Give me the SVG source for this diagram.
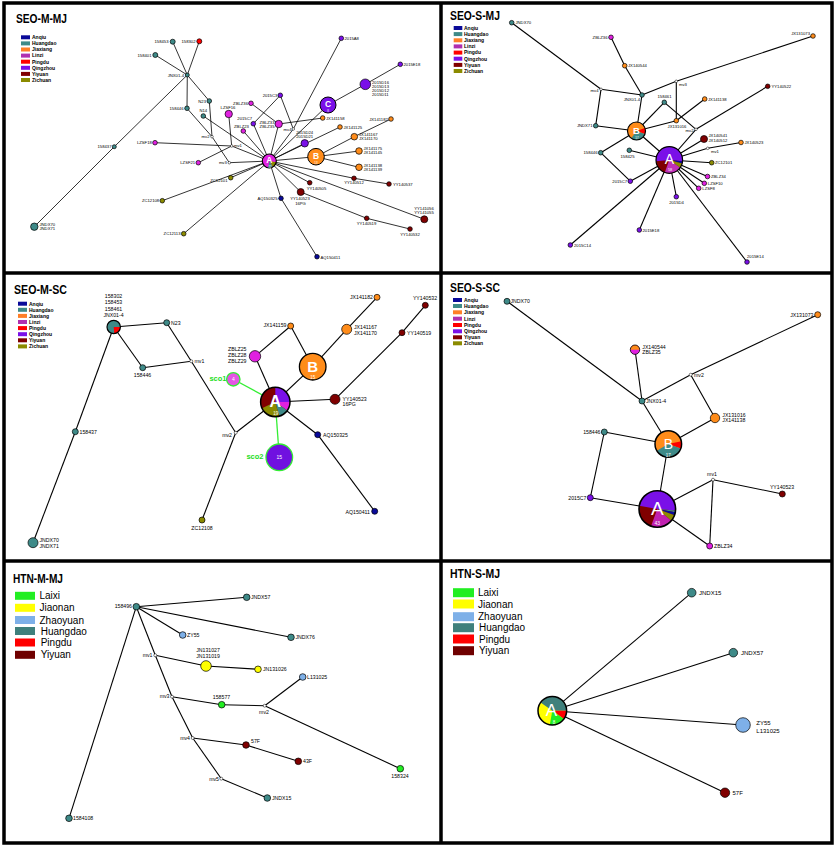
<svg xmlns="http://www.w3.org/2000/svg" width="836" height="846" viewBox="0 0 836 846">
<style>
.fr{fill:none;stroke:#000;stroke-width:3.5}
.e{stroke:#000;stroke-width:0.8;fill:none}
.e2{stroke:#000;stroke-width:1.1;fill:none}
.g{stroke:#33ee33;stroke-width:1.3;fill:none}
circle{stroke:#000;stroke-width:0.7}
.o{fill:none;stroke:#000;stroke-width:1.2}
.mv{fill:#fff;stroke-width:0.5}
text{font-family:"Liberation Sans",Arial,sans-serif;fill:#000}
.t{font-size:4.2px}
.t2{font-size:5.2px}
.t3{font-size:6px}
.ti{font-size:12.5px;font-weight:bold}
.lg{font-size:5px;font-weight:bold}
.lg2{font-size:10px}
.w{fill:#fff;text-anchor:middle}
.sc{fill:#22dd22;font-weight:bold;font-size:7.5px;text-anchor:end}
.r{text-anchor:end}
.m{text-anchor:middle}
.AQ{fill:#0a0a99}.HD{fill:#3e8a88}.JX{fill:#ff8c1a}.LZ{fill:#e020e0}.PD{fill:#ff0000}.QZ{fill:#7a10e8}.YY{fill:#800000}.ZC{fill:#8b8b00}
.LZL{fill:#b030b0}.JXL{fill:#ff7f27}
.LX{fill:#22ee22}.JN{fill:#ffff00}.ZH{fill:#7eb0e8}.HD2{fill:#3f807c}
</style>
<rect width="836" height="846" fill="#fff"/>
<g id="frame">
<rect class="fr" x="4" y="3" width="828" height="840"/>
<line class="fr" x1="441" y1="3" x2="441" y2="843"/>
<line class="fr" x1="4" y1="273" x2="832" y2="273"/>
<line class="fr" x1="4" y1="561" x2="832" y2="561"/>
</g>

<!-- ================= PANEL 1 SEO-M-MJ ================= -->
<g id="p1">
<text class="ti" x="16" y="23" textLength="51" lengthAdjust="spacingAndGlyphs">SEO-M-MJ</text>
<g id="p1-legend">
<rect class="AQ" x="21" y="35.3" width="9" height="4"/><text class="lg" x="32" y="39.1">Anqiu</text>
<rect class="HD" x="21" y="41.4" width="9" height="4"/><text class="lg" x="32" y="45.2">Huangdao</text>
<rect class="JXL" x="21" y="47.5" width="9" height="4"/><text class="lg" x="32" y="51.3">Jiaxiang</text>
<rect class="LZL" x="21" y="53.6" width="9" height="4"/><text class="lg" x="32" y="57.4">Linzi</text>
<rect class="PD" x="21" y="59.7" width="9" height="4"/><text class="lg" x="32" y="63.5">Pingdu</text>
<rect class="QZ" x="21" y="65.8" width="9" height="4"/><text class="lg" x="32" y="69.6">Qingzhou</text>
<rect class="YY" x="21" y="71.9" width="9" height="4"/><text class="lg" x="32" y="75.7">Yiyuan</text>
<rect class="ZC" x="21" y="78" width="9" height="4"/><text class="lg" x="32" y="81.8">Zichuan</text>
</g>
<g id="p1-connectors">
<line class="e" x1="172.7" y1="41.7" x2="187.3" y2="75"/>
<line class="e" x1="199.3" y1="41.3" x2="187.3" y2="75"/>
<line class="e" x1="155.3" y1="55" x2="187.3" y2="75"/>
<line class="e" x1="187.3" y1="75" x2="187" y2="108.3"/>
<line class="e" x1="187.3" y1="75" x2="209.3" y2="101"/>
<line class="e" x1="187.3" y1="75" x2="114.3" y2="146.7"/>
<line class="e" x1="114.3" y1="146.7" x2="34.3" y2="226.7"/>
<line class="e" x1="187" y1="108.3" x2="212" y2="136.7"/>
<line class="e" x1="209.3" y1="101" x2="212" y2="136.7"/>
<line class="e" x1="203.3" y1="116" x2="269.3" y2="161"/>
<line class="e" x1="155" y1="142.7" x2="231.7" y2="146"/>
<line class="e" x1="198.3" y1="162.7" x2="231.7" y2="146"/>
<line class="e" x1="212" y1="136.7" x2="229.3" y2="162.7"/>
<line class="e" x1="231.7" y1="146" x2="269.3" y2="161"/>
<line class="e" x1="229.3" y1="162.7" x2="269.3" y2="161"/>
<line class="e" x1="230.7" y1="177.7" x2="269.3" y2="161"/>
<line class="e" x1="162.3" y1="200.7" x2="269.3" y2="161"/>
<line class="e" x1="183.7" y1="233.7" x2="269.3" y2="161"/>
<line class="e" x1="228.7" y1="114" x2="231.7" y2="146"/>
<line class="e" x1="243.3" y1="131" x2="269.3" y2="161"/>
<line class="e" x1="253.3" y1="123.7" x2="269.3" y2="161"/>
<line class="e" x1="280.3" y1="95.3" x2="253.3" y2="123.7"/>
<line class="e" x1="280.3" y1="95.3" x2="293.3" y2="129"/>
<line class="e" x1="251" y1="103.3" x2="278.7" y2="124"/>
<line class="e" x1="278.7" y1="124" x2="269.3" y2="161"/>
<line class="e" x1="278.7" y1="124" x2="322.7" y2="118"/>
<line class="e" x1="293.3" y1="129" x2="269.3" y2="161"/>
<line class="e" x1="293.3" y1="129" x2="341.3" y2="38.3"/>
<line class="e" x1="328" y1="105" x2="269.3" y2="161"/>
<line class="e" x1="328" y1="105" x2="365.3" y2="84.3"/>
<line class="e" x1="365.3" y1="84.3" x2="400.3" y2="64.3"/>
<line class="e" x1="304.7" y1="143.3" x2="269.3" y2="161"/>
<line class="e" x1="340" y1="127" x2="269.3" y2="161"/>
<line class="e" x1="391" y1="119" x2="354.3" y2="136.7"/>
<line class="e" x1="354.3" y1="136.7" x2="316" y2="156.7"/>
<line class="e" x1="359" y1="151" x2="316" y2="156.7"/>
<line class="e" x1="359" y1="167.3" x2="316" y2="156.7"/>
<line class="e" x1="316" y1="156.7" x2="269.3" y2="161"/>
<line class="e" x1="354" y1="178.3" x2="269.3" y2="161"/>
<line class="e" x1="354" y1="178.3" x2="389" y2="184"/>
<line class="e" x1="309.7" y1="182.7" x2="269.3" y2="161"/>
<line class="e" x1="300.7" y1="192" x2="269.3" y2="161"/>
<line class="e" x1="300.7" y1="192" x2="366.7" y2="218.3"/>
<line class="e" x1="366.7" y1="218.3" x2="410" y2="229"/>
<line class="e" x1="424.3" y1="219.3" x2="269.3" y2="161"/>
<line class="e" x1="281" y1="198.3" x2="269.3" y2="161"/>
<line class="e" x1="281" y1="198.3" x2="317" y2="256.7"/>
</g>
<g id="p1-158453"><circle class="HD" cx="172.7" cy="41.7" r="2.5"/><text class="t r" x="168.5" y="43.2">158453</text></g>
<g id="p1-158302"><circle class="PD" cx="199.3" cy="41.3" r="2.5"/><text class="t r" x="195.5" y="42.8">158302</text></g>
<g id="p1-158401"><circle class="HD" cx="155.3" cy="55" r="2.5"/><text class="t r" x="151.5" y="56.5">158401</text></g>
<g id="p1-JNX01-4"><circle class="HD" cx="187.3" cy="75" r="2"/><text class="t r" x="184" y="76.5">JNX01-4</text></g>
<g id="p1-N23"><circle class="HD" cx="209.3" cy="101" r="2.3"/><text class="t r" x="206" y="102.5">N23</text></g>
<g id="p1-N14"><circle class="HD" cx="203.3" cy="116" r="2.3"/><text class="t" x="199.5" y="111.5">N14</text></g>
<g id="p1-158446"><circle class="HD" cx="187" cy="108.3" r="2.3"/><text class="t r" x="183.5" y="109.8">158446</text></g>
<g id="p1-mv2"><circle class="mv" cx="212" cy="136.7" r="1.3"/><text class="t r" x="209.5" y="138.2">mv2</text></g>
<g id="p1-158437"><circle class="HD" cx="114.3" cy="146.7" r="2"/><text class="t r" x="111.5" y="148.2">158437</text></g>
<g id="p1-JNDX70"><circle class="HD" cx="34.3" cy="226.7" r="3.7"/><text class="t" x="39.5" y="225.8">JNDX70</text><text class="t" x="39.5" y="230">JNDX71</text></g>
<g id="p1-LZSF18"><circle class="LZ" cx="155" cy="142.7" r="2.3"/><text class="t r" x="151.8" y="144.2">LZSF18</text></g>
<g id="p1-LZSF21"><circle class="LZ" cx="198.3" cy="162.7" r="2.3"/><text class="t r" x="195.2" y="164.2">LZSF21</text></g>
<g id="p1-ZC12108"><circle class="ZC" cx="162.3" cy="200.7" r="2.3"/><text class="t r" x="159.2" y="202.2">ZC12108</text></g>
<g id="p1-ZC12113"><circle class="ZC" cx="183.7" cy="233.7" r="2.3"/><text class="t r" x="180.5" y="235.2">ZC12113</text></g>
<g id="p1-mv1"><circle class="mv" cx="231.7" cy="146" r="1.3"/><text class="t" x="234" y="146.5">mv1</text></g>
<g id="p1-mv3"><circle class="mv" cx="229.3" cy="162.7" r="1.3"/><text class="t r" x="226.8" y="164.2">mv3</text></g>
<g id="p1-ZC12101"><circle class="ZC" cx="230.7" cy="177.7" r="2.3"/><text class="t r" x="227.5" y="182">ZC12101</text></g>
<g id="p1-2015D24"><circle class="QZ" cx="304.7" cy="143.3" r="3.7"/><text class="t m" x="304.7" y="134.2">2015D24</text><text class="t m" x="304.7" y="138.4">2015D21</text></g>
<g id="p1-JX141167"><circle class="JX" cx="354.3" cy="136.7" r="3.3"/><text class="t" x="359" y="136">JX141167</text><text class="t" x="359" y="140.2">JX141170</text></g>
<g id="p1-JX141175"><circle class="JX" cx="359" cy="151" r="3.3"/><text class="t" x="363.5" y="150.2">JX141175</text><text class="t" x="363.5" y="154.4">JX141145</text></g>
<g id="p1-JX141138"><circle class="JX" cx="359" cy="167.3" r="3.3"/><text class="t" x="363.5" y="166.5">JX141138</text><text class="t" x="363.5" y="170.7">JX141139</text></g>
<g id="p1-YY140512"><circle class="YY" cx="354" cy="178.3" r="2.3"/><text class="t m" x="354" y="184.3">YY140512</text></g>
<g id="p1-YY140537"><circle class="YY" cx="389" cy="184" r="2.3"/><text class="t" x="393" y="185.5">YY140537</text></g>
<g id="p1-YY140505"><circle class="YY" cx="309.7" cy="182.7" r="2.3"/><text class="t m" x="316.5" y="189.5">YY140505</text></g>
<g id="p1-YY140523"><circle class="YY" cx="300.7" cy="192" r="3.5"/><text class="t m" x="300" y="200">YY140523</text><text class="t m" x="300.5" y="205">16PG</text></g>
<g id="p1-AQ150325"><circle class="AQ" cx="281" cy="198.3" r="2.3"/><text class="t r" x="277.5" y="200">AQ150325</text></g>
<g id="p1-AQ150411"><circle class="AQ" cx="317" cy="256.7" r="2.3"/><text class="t" x="320.5" y="258.5">AQ150411</text></g>
<g id="p1-YY140519"><circle class="YY" cx="366.7" cy="218.3" r="2.3"/><text class="t m" x="366.5" y="225">YY140519</text></g>
<g id="p1-YY140532"><circle class="YY" cx="410" cy="229" r="2.3"/><text class="t m" x="410" y="236">YY140532</text></g>
<g id="p1-YY141056"><circle class="YY" cx="424.3" cy="219.3" r="3.5"/><text class="t m" x="424" y="209.5">YY141056</text><text class="t m" x="424" y="213.5">YY141055</text></g>
<g id="p1-2015A8"><circle class="QZ" cx="341.3" cy="38.3" r="2.3"/><text class="t" x="344.5" y="39.8">2015A8</text></g>
<g id="p1-2015E18"><circle class="QZ" cx="400.3" cy="64.3" r="2.3"/><text class="t" x="403.5" y="65.8">2015E18</text></g>
<g id="p1-2015D16"><circle class="QZ" cx="365.3" cy="84.3" r="5.3"/><text class="t" x="372" y="84">2015D16</text><text class="t" x="372" y="88">2015D13</text><text class="t" x="372" y="92">2015D12</text><text class="t" x="372" y="96">2015D11</text></g>
<g id="p1-2015C3"><circle class="QZ" cx="280.3" cy="95.3" r="2.3"/><text class="t r" x="277.3" y="96.8">2015C3</text></g>
<g id="p1-ZBLZ36"><circle class="LZ" cx="251" cy="103.3" r="2.3"/><text class="t r" x="248" y="104.5">ZBLZ36</text></g>
<g id="p1-LZSF16"><circle class="LZ" cx="228.7" cy="114" r="3.7"/><text class="t m" x="228" y="108.5">LZSF16</text></g>
<g id="p1-2015C7"><circle class="QZ" cx="253.3" cy="123.7" r="2.3"/><text class="t r" x="252" y="119.6">2015C7</text></g>
<g id="p1-ZBLZ23"><circle class="LZ" cx="243.3" cy="131" r="2.3"/><text class="t m" x="241.5" y="127.5">ZBLZ23</text></g>
<g id="p1-ZBLZ33"><circle class="LZ" cx="278.7" cy="124" r="3.7"/><text class="t r" x="274.5" y="123.5">ZBLZ33</text><text class="t r" x="274.5" y="127.5">ZBLZ35</text></g>
<g id="p1-mv4"><circle class="mv" cx="293.3" cy="129" r="1.3"/><text class="t r" x="291.5" y="131.2">mv4</text></g>
<g id="p1-JX141158"><circle class="JX" cx="322.7" cy="118" r="2.3"/><text class="t" x="326" y="119.5">JX141158</text></g>
<g id="p1-JX141125"><circle class="JX" cx="340" cy="127" r="2.3"/><text class="t" x="343.5" y="128.5">JX141125</text></g>
<g id="p1-JX141182"><circle class="JX" cx="391" cy="119" r="2.3"/><text class="t r" x="387.8" y="120.5">JX141182</text></g>
<g id="p1-C"><circle class="QZ" cx="328" cy="105" r="8" style="stroke-width:1"/><text class="w" x="328" y="107" font-size="8.5" font-weight="bold">C</text><text class="w" x="328" y="112" font-size="3">8</text></g>
<g id="p1-B"><circle class="JX" cx="316" cy="156.7" r="8.3" style="stroke-width:1"/><text class="w" x="316" y="159" font-size="8.5" font-weight="bold">B</text><text class="w" x="316" y="164" font-size="3">13</text></g>
<g id="p1-A"><circle class="LZ" cx="269.3" cy="161" r="7" style="stroke:none"/>
<path class="ZC" d="M269.3,161 L276.19,162.22 A7,7 0 0 1 272.8,167.06 Z"/>
<path class="HD" d="M269.3,161 L272.8,167.06 A7,7 0 0 1 268.08,167.89 Z"/>
<circle class="o" cx="269.3" cy="161" r="7"/>
<text class="w" x="269.3" y="163.3" font-size="8.5" font-weight="bold">A</text><text class="w" x="270" y="167.8" font-size="2.6">22</text></g>
</g>

<!-- ================= PANEL 2 SEO-S-MJ ================= -->
<g id="p2">
<text class="ti" x="450" y="20" textLength="50" lengthAdjust="spacingAndGlyphs">SEO-S-MJ</text>
<g id="p2-legend">
<rect class="AQ" x="453.7" y="26" width="8.6" height="4"/><text class="lg" x="464" y="29.8">Anqiu</text>
<rect class="HD" x="453.7" y="32.1" width="8.6" height="4"/><text class="lg" x="464" y="35.9">Huangdao</text>
<rect class="JXL" x="453.7" y="38.3" width="8.6" height="4"/><text class="lg" x="464" y="42.1">Jiaxiang</text>
<rect class="LZL" x="453.7" y="44.4" width="8.6" height="4"/><text class="lg" x="464" y="48.2">Linzi</text>
<rect class="PD" x="453.7" y="50.6" width="8.6" height="4"/><text class="lg" x="464" y="54.4">Pingdu</text>
<rect class="QZ" x="453.7" y="56.7" width="8.6" height="4"/><text class="lg" x="464" y="60.5">Qingzhou</text>
<rect class="YY" x="453.7" y="62.9" width="8.6" height="4"/><text class="lg" x="464" y="66.7">Yiyuan</text>
<rect class="ZC" x="453.7" y="69" width="8.6" height="4"/><text class="lg" x="464" y="72.8">Zichuan</text>
</g>
<g id="p2-connectors">
<line class="e2" x1="511.7" y1="22.7" x2="601" y2="89.3"/>
<line class="e2" x1="601" y1="89.3" x2="642" y2="95"/>
<line class="e2" x1="601" y1="89.3" x2="595.7" y2="125.7"/>
<line class="e2" x1="595.7" y1="125.7" x2="636.5" y2="131"/>
<line class="e2" x1="642" y1="95" x2="636.5" y2="131"/>
<line class="e2" x1="611" y1="37.3" x2="624.7" y2="65.7"/>
<line class="e2" x1="624.7" y1="65.7" x2="642" y2="95"/>
<line class="e2" x1="642" y1="95" x2="676.3" y2="81.3"/>
<line class="e2" x1="676.3" y1="81.3" x2="813" y2="36"/>
<line class="e2" x1="676.3" y1="81.3" x2="676.3" y2="120.7"/>
<line class="e2" x1="676.3" y1="120.7" x2="636.5" y2="131"/>
<line class="e2" x1="676.3" y1="120.7" x2="704.7" y2="99"/>
<line class="e2" x1="664.3" y1="102.3" x2="636.5" y2="131"/>
<line class="e2" x1="664.3" y1="102.3" x2="696" y2="129.3"/>
<line class="e2" x1="696" y1="129.3" x2="767.7" y2="86.3"/>
<line class="e2" x1="696" y1="129.3" x2="669.3" y2="160"/>
<line class="e2" x1="636.5" y1="131" x2="669.3" y2="160"/>
<line class="e2" x1="636.5" y1="131" x2="600.7" y2="152.7"/>
<line class="e2" x1="600.7" y1="152.7" x2="630.3" y2="181.2"/>
<line class="e2" x1="630.3" y1="181.2" x2="669.3" y2="160"/>
<line class="e2" x1="629.3" y1="150.3" x2="669.3" y2="160"/>
<line class="e2" x1="704" y1="139" x2="669.3" y2="160"/>
<line class="e2" x1="707.7" y1="148.3" x2="669.3" y2="160"/>
<line class="e2" x1="707.7" y1="148.3" x2="741" y2="142.5"/>
<line class="e2" x1="711.7" y1="162.7" x2="669.3" y2="160"/>
<line class="e2" x1="707.5" y1="176.5" x2="669.3" y2="160"/>
<line class="e2" x1="704.3" y1="183.3" x2="669.3" y2="160"/>
<line class="e2" x1="698.7" y1="188.3" x2="669.3" y2="160"/>
<line class="e2" x1="676.3" y1="196.7" x2="669.3" y2="160"/>
<line class="e2" x1="639.3" y1="230" x2="669.3" y2="160"/>
<line class="e2" x1="570.3" y1="245" x2="669.3" y2="160"/>
<line class="e2" x1="747" y1="262" x2="669.3" y2="160"/>
</g>
<g id="p2-JNDX70"><circle class="HD" cx="511.7" cy="22.7" r="2.3"/><text class="t" x="515.5" y="24.2">JNDX70</text></g>
<g id="p2-ZBLZ36"><circle class="LZ" cx="611" cy="37.3" r="2.3"/><text class="t r" x="607.5" y="38.8">ZBLZ36</text></g>
<g id="p2-JX140544"><circle class="JX" cx="624.7" cy="65.7" r="2.3"/><text class="t" x="628" y="67.2">JX140544</text></g>
<g id="p2-mv4"><circle class="mv" cx="601" cy="89.3" r="1.3"/><text class="t r" x="598.5" y="92">mv4</text></g>
<g id="p2-JNX01-4"><circle class="HD" cx="642" cy="95" r="2.3"/><text class="t r" x="640" y="100.5">JNX01-4</text></g>
<g id="p2-JNDX71"><circle class="HD" cx="595.7" cy="125.7" r="2.3"/><text class="t r" x="592.5" y="127.2">JNDX71</text></g>
<g id="p2-JX131073"><circle class="JX" cx="813" cy="36" r="2.3"/><text class="t r" x="810" y="34.8">JX131073</text></g>
<g id="p2-mv3"><circle class="mv" cx="676.3" cy="81.3" r="1.3"/><text class="t" x="679" y="85.5">mv3</text></g>
<g id="p2-158461"><circle class="HD" cx="664.3" cy="102.3" r="2.3"/><text class="t m" x="664.5" y="98.3">158461</text></g>
<g id="p2-JX141138"><circle class="JX" cx="704.7" cy="99" r="2.3"/><text class="t" x="708" y="100.5">JX141138</text></g>
<g id="p2-YY140522"><circle class="YY" cx="767.7" cy="86.3" r="2.3"/><text class="t" x="771.5" y="87.8">YY140522</text></g>
<g id="p2-JX131016"><circle class="JX" cx="676.3" cy="120.7" r="2.3"/><text class="t m" x="677" y="128.2">JX131016</text></g>
<g id="p2-mv2"><circle class="mv" cx="696" cy="129.3" r="1.3"/><text class="t r" x="693.5" y="131.5">mv2</text></g>
<g id="p2-JX140541"><circle class="YY" cx="704" cy="139" r="3.5"/><text class="t" x="708.5" y="136.5">JX140541</text><text class="t" x="708.5" y="141.5">JX140512</text></g>
<g id="p2-JX140523"><circle class="JX" cx="741" cy="142.5" r="2.3"/><text class="t" x="744.5" y="144">JX140523</text></g>
<g id="p2-mv1"><circle class="mv" cx="707.7" cy="148.3" r="1.3"/><text class="t" x="711" y="153">mv1</text></g>
<g id="p2-ZC12101"><circle class="ZC" cx="711.7" cy="162.7" r="2.3"/><text class="t" x="715" y="164.2">ZC12101</text></g>
<g id="p2-ZBLZ34"><circle class="LZ" cx="707.5" cy="176.5" r="2.3"/><text class="t" x="711" y="178">ZBLZ34</text></g>
<g id="p2-LZSF10"><circle class="LZ" cx="704.3" cy="183.3" r="2.3"/><text class="t" x="707.8" y="184.8">LZSF10</text></g>
<g id="p2-LZSF8"><circle class="LZ" cx="698.7" cy="188.3" r="2.3"/><text class="t" x="702.3" y="189.8">LZSF8</text></g>
<g id="p2-2015D4"><circle class="QZ" cx="676.3" cy="196.7" r="2.3"/><text class="t m" x="676.5" y="204">2015D4</text></g>
<g id="p2-2015C7"><circle class="QZ" cx="630.3" cy="181.2" r="2.3"/><text class="t r" x="627" y="183">2015C7</text></g>
<g id="p2-158446"><circle class="HD" cx="600.7" cy="152.7" r="2.3"/><text class="t r" x="597.5" y="154.2">158446</text></g>
<g id="p2-158425"><circle class="HD" cx="629.3" cy="150.3" r="2.3"/><text class="t m" x="627.5" y="157.5">158425</text></g>
<g id="p2-2015E18"><circle class="QZ" cx="639.3" cy="230" r="2.3"/><text class="t" x="642.5" y="231.5">2015E18</text></g>
<g id="p2-2015C14"><circle class="QZ" cx="570.3" cy="245" r="2.3"/><text class="t" x="574" y="246.5">2015C14</text></g>
<g id="p2-2015E14"><circle class="QZ" cx="747" cy="262" r="2.3"/><text class="t" x="747" y="258">2015E14</text></g>
<g id="p2-B"><circle class="JX" cx="636.5" cy="131" r="9" style="stroke:none"/>
<path class="PD" d="M636.5,131 L644.96,127.92 A9,9 0 0 1 644.96,134.08 Z"/>
<path class="HD" d="M636.5,131 L644.96,134.08 A9,9 0 0 1 631.34,138.37 Z"/>
<circle class="o" cx="636.5" cy="131" r="9"/>
<text class="w" x="636.5" y="134" font-size="9.5" font-weight="bold">B</text><text class="w" x="637" y="139" font-size="3">17</text></g>
<g id="p2-A"><circle class="YY" cx="669.3" cy="160" r="13.3" style="stroke:none"/>
<path class="QZ" d="M669.3,160 L656.05,161.16 A13.3,13.3 0 1 1 682.55,161.16 Z"/>
<path class="AQ" d="M669.3,160 L682.55,161.16 A13.3,13.3 0 0 1 682.15,163.44 Z"/>
<path class="ZC" d="M669.3,160 L682.15,163.44 A13.3,13.3 0 0 1 680.2,167.63 Z"/>
<path style="fill:#c030b8" d="M669.3,160 L680.2,167.63 A13.3,13.3 0 0 1 664.75,172.5 Z"/>
<circle class="o" cx="669.3" cy="160" r="13.3"/>
<text class="w" x="669.3" y="164" font-size="14">A</text><text class="w" x="670" y="171" font-size="3.8">58</text></g>
</g>

<!-- ================= PANEL 3 SEO-M-SC ================= -->
<g id="p3">
<text class="ti" x="14" y="294" textLength="53" lengthAdjust="spacingAndGlyphs">SEO-M-SC</text>
<g id="p3-legend">
<rect class="AQ" x="18" y="301.7" width="9" height="4"/><text class="lg" x="29" y="305.5">Anqiu</text>
<rect class="HD" x="18" y="307.8" width="9" height="4"/><text class="lg" x="29" y="311.6">Huangdao</text>
<rect class="JXL" x="18" y="313.9" width="9" height="4"/><text class="lg" x="29" y="317.7">Jiaxiang</text>
<rect class="LZL" x="18" y="320" width="9" height="4"/><text class="lg" x="29" y="323.8">Linzi</text>
<rect class="PD" x="18" y="326.1" width="9" height="4"/><text class="lg" x="29" y="329.9">Pingdu</text>
<rect class="QZ" x="18" y="332.2" width="9" height="4"/><text class="lg" x="29" y="336">Qingzhou</text>
<rect class="YY" x="18" y="338.3" width="9" height="4"/><text class="lg" x="29" y="342.1">Yiyuan</text>
<rect class="ZC" x="18" y="344.4" width="9" height="4"/><text class="lg" x="29" y="348.2">Zichuan</text>
</g>
<g id="p3-connectors">
<line class="e2" x1="113.7" y1="327" x2="166.7" y2="322.7"/>
<line class="e2" x1="113.7" y1="327" x2="142.7" y2="367.7"/>
<line class="e2" x1="113.7" y1="327" x2="75.3" y2="431.7"/>
<line class="e2" x1="75.3" y1="431.7" x2="33" y2="542.7"/>
<line class="e2" x1="142.7" y1="367.7" x2="191.3" y2="361.3"/>
<line class="e2" x1="166.7" y1="322.7" x2="191.3" y2="361.3"/>
<line class="e2" x1="191.3" y1="361.3" x2="235.7" y2="432.7"/>
<line class="e2" x1="235.7" y1="432.7" x2="275.3" y2="402"/>
<line class="e2" x1="235.7" y1="432.7" x2="202" y2="520"/>
<line class="g" x1="233.3" y1="379.3" x2="275.3" y2="402"/>
<line class="g" x1="279.3" y1="457.3" x2="275.3" y2="402"/>
<line class="e2" x1="255" y1="356.3" x2="275.3" y2="402"/>
<line class="e2" x1="255" y1="356.3" x2="290.7" y2="326"/>
<line class="e2" x1="290.7" y1="326" x2="312.7" y2="366.7"/>
<line class="e2" x1="275.3" y1="402" x2="312.7" y2="366.7"/>
<line class="e2" x1="312.7" y1="366.7" x2="346.7" y2="329.3"/>
<line class="e2" x1="346.7" y1="329.3" x2="377" y2="297.3"/>
<line class="e2" x1="275.3" y1="402" x2="335" y2="399.3"/>
<line class="e2" x1="335" y1="399.3" x2="402" y2="332.7"/>
<line class="e2" x1="402" y1="332.7" x2="425.3" y2="305.3"/>
<line class="e2" x1="275.3" y1="402" x2="317.7" y2="434.7"/>
<line class="e2" x1="317.7" y1="434.7" x2="374.7" y2="511.3"/>
</g>
<g id="p3-JNX01-4"><circle class="HD" cx="113.7" cy="327" r="6.7" style="stroke:none"/>
<path class="PD" d="M113.7,327 L120.4,327 A6.7,6.7 0 0 1 114.28,333.67 Z"/>
<circle class="o" cx="113.7" cy="327" r="6.7"/>
<text class="t2 m" x="113.5" y="298">158302</text><text class="t2 m" x="113.5" y="304.3">158453</text><text class="t2 m" x="113.5" y="310.6">158461</text><text class="t2 m" x="113.5" y="317">JNX01-4</text></g>
<g id="p3-N23"><circle class="HD" cx="166.7" cy="322.7" r="3"/><text class="t2" x="171" y="324.5">N23</text></g>
<g id="p3-158446"><circle class="HD" cx="142.7" cy="367.7" r="3"/><text class="t2 m" x="142.5" y="377">158446</text></g>
<g id="p3-mv1"><circle class="mv" cx="191.3" cy="361.3" r="1.5"/><text class="t2" x="194.5" y="363">mv1</text></g>
<g id="p3-158437"><circle class="HD" cx="75.3" cy="431.7" r="3"/><text class="t2" x="79.5" y="433.5">158437</text></g>
<g id="p3-JNDX70"><circle class="HD" cx="33" cy="542.7" r="5"/><text class="t2" x="39.5" y="542.2">JNDX70</text><text class="t2" x="39.5" y="548.2">JNDX71</text></g>
<g id="p3-mv2"><circle class="mv" cx="235.7" cy="432.7" r="1.5"/><text class="t2 r" x="232" y="436.5">mv2</text></g>
<g id="p3-ZC12108"><circle class="ZC" cx="202" cy="520" r="3"/><text class="t2 m" x="202" y="529.5">ZC12108</text></g>
<g id="p3-sco1"><circle cx="233.3" cy="379.3" r="6.7" style="fill:#e455e4;stroke:#33ee33;stroke-width:1.3"/><text class="w" x="233.3" y="381.3" font-size="5">4</text><text class="sc" x="226.5" y="381">sco1</text></g>
<g id="p3-sco2"><circle cx="279.3" cy="457.3" r="13.3" style="fill:#7010e0;stroke:#33ee33;stroke-width:1.3"/><text class="w" x="279.3" y="459.3" font-size="5">15</text><text class="sc" x="263.5" y="459">sco2</text></g>
<g id="p3-ZBLZ25"><circle class="LZ" cx="255" cy="356.3" r="5.7"/><text class="t2 r" x="246.5" y="351">ZBLZ25</text><text class="t2 r" x="246.5" y="357">ZBLZ28</text><text class="t2 r" x="246.5" y="363">ZBLZ29</text></g>
<g id="p3-JX141159"><circle class="JX" cx="290.7" cy="326" r="3"/><text class="t2 r" x="286.5" y="326.5">JX141159</text></g>
<g id="p3-JX141167"><circle class="JX" cx="346.7" cy="329.3" r="5"/><text class="t2" x="354" y="329">JX141167</text><text class="t2" x="354" y="335">JX141170</text></g>
<g id="p3-JX141182"><circle class="JX" cx="377" cy="297.3" r="3"/><text class="t2 r" x="373" y="299">JX141182</text></g>
<g id="p3-YY140532"><circle class="YY" cx="425.3" cy="305.3" r="3"/><text class="t2 m" x="425" y="300">YY140532</text></g>
<g id="p3-YY140519"><circle class="YY" cx="402" cy="332.7" r="3"/><text class="t2" x="407" y="334.5">YY140519</text></g>
<g id="p3-YY140523"><circle class="YY" cx="335" cy="399.3" r="5"/><text class="t2" x="342.5" y="400.5">YY140523</text><text class="t2" x="342.5" y="406">16PG</text></g>
<g id="p3-AQ150325"><circle class="AQ" cx="317.7" cy="434.7" r="3"/><text class="t2" x="323" y="436.5">AQ150325</text></g>
<g id="p3-AQ150411"><circle class="AQ" cx="374.7" cy="511.3" r="3"/><text class="t2 r" x="370" y="513.5">AQ150411</text></g>
<g id="p3-B"><circle class="JX" cx="312.7" cy="366.7" r="13.3" style="stroke-width:1.3"/><text class="w" x="312.7" y="371.5" font-size="15" font-weight="bold">B</text><text class="w" x="312.7" y="379" font-size="4.5">15</text></g>
<g id="p3-A"><circle class="YY" cx="275.3" cy="402" r="14.7" style="stroke:none"/>
<path class="QZ" d="M275.3,402 L275.3,387.3 A14.7,14.7 0 0 1 290,402 Z"/>
<path class="LZ" d="M275.3,402 L290,402 A14.7,14.7 0 0 1 287.34,410.43 Z"/>
<path class="HD" d="M275.3,402 L287.34,410.43 A14.7,14.7 0 0 1 279.1,416.2 Z"/>
<path class="ZC" d="M275.3,402 L279.1,416.2 A14.7,14.7 0 0 1 261.98,408.21 Z"/>
<circle class="o" cx="275.3" cy="402" r="14.7" style="stroke-width:1.5"/>
<text class="w" x="275.3" y="407" font-size="16" font-weight="bold">A</text><text class="w" x="275.8" y="415" font-size="4.5">19</text></g>
</g>

<!-- ================= PANEL 4 SEO-S-SC ================= -->
<g id="p4">
<text class="ti" x="450" y="292" textLength="50" lengthAdjust="spacingAndGlyphs">SEO-S-SC</text>
<g id="p4-legend">
<rect class="AQ" x="453" y="298" width="9" height="4"/><text class="lg" x="464" y="301.8">Anqiu</text>
<rect class="HD" x="453" y="304" width="9" height="4"/><text class="lg" x="464" y="307.8">Huangdao</text>
<rect class="JXL" x="453" y="310.3" width="9" height="4"/><text class="lg" x="464" y="314.1">Jiaxiang</text>
<rect class="LZL" x="453" y="316.7" width="9" height="4"/><text class="lg" x="464" y="320.5">Linzi</text>
<rect class="PD" x="453" y="323" width="9" height="4"/><text class="lg" x="464" y="326.8">Pingdu</text>
<rect class="QZ" x="453" y="329.3" width="9" height="4"/><text class="lg" x="464" y="333.1">Qingzhou</text>
<rect class="YY" x="453" y="335.3" width="9" height="4"/><text class="lg" x="464" y="339.1">Yiyuan</text>
<rect class="ZC" x="453" y="341.3" width="9" height="4"/><text class="lg" x="464" y="345.1">Zichuan</text>
</g>
<g id="p4-connectors">
<line class="e2" x1="507" y1="301.3" x2="642" y2="401"/>
<line class="e2" x1="635" y1="349.7" x2="642" y2="401"/>
<line class="e2" x1="642" y1="401" x2="690.7" y2="374.7"/>
<line class="e2" x1="690.7" y1="374.7" x2="817.7" y2="314.7"/>
<line class="e2" x1="690.7" y1="374.7" x2="715" y2="418"/>
<line class="e2" x1="715" y1="418" x2="668.3" y2="444"/>
<line class="e2" x1="642" y1="401" x2="668.3" y2="444"/>
<line class="e2" x1="604.3" y1="432" x2="668.3" y2="444"/>
<line class="e2" x1="604.3" y1="432" x2="590.3" y2="497.7"/>
<line class="e2" x1="590.3" y1="497.7" x2="657.3" y2="509"/>
<line class="e2" x1="668.3" y1="444" x2="657.3" y2="509"/>
<line class="e2" x1="657.3" y1="509" x2="713" y2="479.7"/>
<line class="e2" x1="713" y1="479.7" x2="782.3" y2="494"/>
<line class="e2" x1="713" y1="479.7" x2="709.7" y2="546"/>
<line class="e2" x1="657.3" y1="509" x2="709.7" y2="546"/>
</g>
<g id="p4-JNDX70"><circle class="HD" cx="507" cy="301.3" r="3"/><text class="t2" x="510.5" y="302.5">JNDX70</text></g>
<g id="p4-JX131073"><circle class="JX" cx="817.7" cy="314.7" r="3"/><text class="t2 r" x="813.5" y="316.5">JX131073</text></g>
<g id="p4-JX140544"><circle class="LZ" cx="635" cy="349.7" r="4.7" style="stroke:none"/><path class="JX" d="M630.3,349.7 A4.7,4.7 0 0 1 639.7,349.7 Z"/><circle class="o" cx="635" cy="349.7" r="4.7" style="stroke-width:0.8"/><text class="t2" x="642.3" y="349.3">JX140544</text><text class="t2" x="642.3" y="354.3">ZBLZ35</text></g>
<g id="p4-mv2"><circle class="mv" cx="690.7" cy="374.7" r="1.5"/><text class="t2" x="694" y="377">mv2</text></g>
<g id="p4-JNX01-4"><circle class="HD" cx="642" cy="401" r="3"/><text class="t2" x="646" y="402.8">JNX01-4</text></g>
<g id="p4-JX131016"><circle class="JX" cx="715" cy="418" r="4.7"/><text class="t2" x="722.3" y="416.8">JX131016</text><text class="t2" x="722.3" y="422">JX141138</text></g>
<g id="p4-158446"><circle class="HD" cx="604.3" cy="432" r="3"/><text class="t2 r" x="600.5" y="433.8">158446</text></g>
<g id="p4-mv1"><circle class="mv" cx="713" cy="479.7" r="1.5"/><text class="t2 m" x="712" y="475.5">mv1</text></g>
<g id="p4-YY140523"><circle class="YY" cx="782.3" cy="494" r="3"/><text class="t2 m" x="782" y="488.5">YY140523</text></g>
<g id="p4-2015C7"><circle class="QZ" cx="590.3" cy="497.7" r="3"/><text class="t2 r" x="586.5" y="499.5">2015C7</text></g>
<g id="p4-ZBLZ34"><circle class="LZ" cx="709.7" cy="546" r="3"/><text class="t2" x="714" y="547.8">ZBLZ34</text></g>
<g id="p4-B"><circle class="JX" cx="668.3" cy="444" r="13.3" style="stroke:none"/>
<path class="PD" d="M668.3,444 L681.31,441.23 A13.3,13.3 0 0 1 680.8,448.55 Z"/>
<path class="HD" d="M668.3,444 L680.8,448.55 A13.3,13.3 0 0 1 656.78,450.65 Z"/>
<circle class="o" cx="668.3" cy="444" r="13.3" style="stroke-width:1.5"/>
<text class="w" x="668.3" y="448.5" font-size="14">B</text><text class="w" x="668.3" y="456.5" font-size="4.5">17</text></g>
<g id="p4-A"><circle class="YY" cx="657.3" cy="509" r="18.3" style="stroke:none"/>
<path class="QZ" d="M657.3,509 L639.28,505.82 A18.3,18.3 0 0 1 675.53,510.59 Z"/>
<path class="HD" d="M657.3,509 L675.53,510.59 A18.3,18.3 0 0 1 675.32,512.18 Z"/>
<path class="AQ" d="M657.3,509 L675.32,512.18 A18.3,18.3 0 0 1 674.5,515.26 Z"/>
<path class="ZC" d="M657.3,509 L674.5,515.26 A18.3,18.3 0 0 1 671.32,520.76 Z"/>
<path style="fill:#c020b0" d="M657.3,509 L671.32,520.76 A18.3,18.3 0 0 1 651.04,526.2 Z"/>
<circle class="o" cx="657.3" cy="509" r="18.3" style="stroke-width:1.6"/>
<text class="w" x="657.3" y="514.5" font-size="19">A</text><text class="w" x="657.3" y="524.5" font-size="5">43</text></g>
</g>

<!-- ================= PANEL 5 HTN-M-MJ ================= -->
<g id="p5">
<text class="ti" x="13" y="583" textLength="50" lengthAdjust="spacingAndGlyphs">HTN-M-MJ</text>
<g id="p5-legend">
<rect class="LX" x="15" y="591.8" width="20" height="8"/><text class="lg2" x="39.5" y="599.3">Laixi</text>
<rect class="JN" x="15" y="603.8" width="20" height="8"/><text class="lg2" x="39.5" y="611.3">Jiaonan</text>
<rect class="ZH" x="15" y="616" width="20" height="8"/><text class="lg2" x="39.5" y="623.5">Zhaoyuan</text>
<rect class="HD2" x="15" y="627" width="20" height="8"/><text class="lg2" x="40.7" y="634.5">Huangdao</text>
<rect class="PD" x="15" y="638.5" width="20" height="8"/><text class="lg2" x="40.7" y="646">Pingdu</text>
<rect style="fill:#6f0000" x="15" y="650.8" width="20" height="8"/><text class="lg2" x="40.7" y="658.3">Yiyuan</text>
</g>
<g id="p5-connectors">
<line class="e2" x1="136.3" y1="606.7" x2="246.7" y2="597.3"/>
<line class="e2" x1="136.3" y1="606.7" x2="182.7" y2="635"/>
<line class="e2" x1="136.3" y1="606.7" x2="291" y2="637.3"/>
<line class="e2" x1="136.3" y1="606.7" x2="69" y2="818.3"/>
<line class="e2" x1="136.3" y1="606.7" x2="155.3" y2="655.3"/>
<line class="e2" x1="155.3" y1="655.3" x2="172" y2="696.7"/>
<line class="e2" x1="172" y1="696.7" x2="192.7" y2="738"/>
<line class="e2" x1="192.7" y1="738" x2="221.3" y2="778.7"/>
<line class="e2" x1="155.3" y1="655.3" x2="206" y2="666"/>
<line class="e2" x1="206" y1="666" x2="258" y2="669.3"/>
<line class="e2" x1="172" y1="696.7" x2="221.7" y2="704.7"/>
<line class="e2" x1="221.7" y1="704.7" x2="264.7" y2="705.7"/>
<line class="e2" x1="264.7" y1="705.7" x2="302.7" y2="677"/>
<line class="e2" x1="264.7" y1="705.7" x2="400.3" y2="768.7"/>
<line class="e2" x1="192.7" y1="738" x2="246" y2="745"/>
<line class="e2" x1="246" y1="745" x2="298.3" y2="761.3"/>
<line class="e2" x1="221.3" y1="778.7" x2="267.3" y2="798"/>
</g>
<g id="p5-158496"><circle class="HD" cx="136.3" cy="606.7" r="3.3"/><text class="t2 r" x="132" y="608">158496</text></g>
<g id="p5-JNDX57"><circle class="HD" cx="246.7" cy="597.3" r="3.3"/><text class="t2" x="251" y="598.8">JNDX57</text></g>
<g id="p5-ZY55"><circle class="ZH" cx="182.7" cy="635" r="3.3"/><text class="t2" x="187" y="636.5">ZY55</text></g>
<g id="p5-JNDX76"><circle class="HD" cx="291" cy="637.3" r="3.3"/><text class="t2" x="295.5" y="638.8">JNDX76</text></g>
<g id="p5-mv1"><circle class="mv" cx="155.3" cy="655.3" r="1.5"/><text class="t2 r" x="152.5" y="656.8">mv1</text></g>
<g id="p5-JN131027"><circle class="JN" cx="206" cy="666" r="5.3"/><text class="t2 m" x="208" y="652">JN131027</text><text class="t2 m" x="208" y="658.3">JN131019</text></g>
<g id="p5-JN131026"><circle class="JN" cx="258" cy="669.3" r="3.3"/><text class="t2" x="263" y="670.8">JN131026</text></g>
<g id="p5-L131025"><circle class="ZH" cx="302.7" cy="677" r="3.3"/><text class="t2" x="307" y="678.5">L131025</text></g>
<g id="p5-mv3"><circle class="mv" cx="172" cy="696.7" r="1.5"/><text class="t2 r" x="169.5" y="698.2">mv3</text></g>
<g id="p5-158577"><circle class="LX" cx="221.7" cy="704.7" r="3.3"/><text class="t2 m" x="221.5" y="698.5">158577</text></g>
<g id="p5-mv2"><circle class="mv" cx="264.7" cy="705.7" r="1.5"/><text class="t2 m" x="264" y="713.5">mv2</text></g>
<g id="p5-158324"><circle class="LX" cx="400.3" cy="768.7" r="3.3"/><text class="t2 m" x="400" y="777.5">158324</text></g>
<g id="p5-mv4"><circle class="mv" cx="192.7" cy="738" r="1.5"/><text class="t2 r" x="190" y="740">mv4</text></g>
<g id="p5-57F"><circle class="YY" cx="246" cy="745" r="3.3"/><text class="t2" x="251" y="743">57F</text></g>
<g id="p5-43F"><circle class="YY" cx="298.3" cy="761.3" r="3.3"/><text class="t2" x="303" y="762.8">43F</text></g>
<g id="p5-mv5"><circle class="mv" cx="221.3" cy="778.7" r="1.5"/><text class="t2 r" x="219" y="780.5">mv5</text></g>
<g id="p5-JNDX15"><circle class="HD" cx="267.3" cy="798" r="3.3"/><text class="t2" x="272" y="799.5">JNDX15</text></g>
<g id="p5-1584108"><circle class="HD" cx="69" cy="818.3" r="3.3"/><text class="t2" x="73" y="819.8">1584108</text></g>
</g>

<!-- ================= PANEL 6 HTN-S-MJ ================= -->
<g id="p6">
<text class="ti" x="450" y="578" textLength="50" lengthAdjust="spacingAndGlyphs">HTN-S-MJ</text>
<g id="p6-legend">
<rect class="LX" x="453" y="588.2" width="21" height="9"/><text class="lg2" x="478" y="596.2">Laixi</text>
<rect class="JN" x="453" y="599.5" width="21" height="9"/><text class="lg2" x="478" y="607.5">Jiaonan</text>
<rect class="ZH" x="453" y="612.2" width="21" height="9"/><text class="lg2" x="478" y="620.2">Zhaoyuan</text>
<rect class="HD2" x="453" y="623.2" width="21" height="9"/><text class="lg2" x="479" y="631.2">Huangdao</text>
<rect class="PD" x="453" y="634.5" width="21" height="9"/><text class="lg2" x="479" y="642.5">Pingdu</text>
<rect style="fill:#6f0000" x="453" y="646.2" width="21" height="9"/><text class="lg2" x="479" y="654.2">Yiyuan</text>
</g>
<g id="p6-connectors">
<line class="e2" x1="552.3" y1="710.7" x2="691.7" y2="592.7"/>
<line class="e2" x1="552.3" y1="710.7" x2="733.3" y2="652.7"/>
<line class="e2" x1="552.3" y1="710.7" x2="743" y2="725"/>
<line class="e2" x1="552.3" y1="710.7" x2="725" y2="792.7"/>
</g>
<g id="p6-JNDX15"><circle class="HD" cx="691.7" cy="592.7" r="4.3"/><text class="t3" x="699" y="594.8">JNDX15</text></g>
<g id="p6-JNDX57"><circle class="HD" cx="733.3" cy="652.7" r="4.3"/><text class="t3" x="741" y="655">JNDX57</text></g>
<g id="p6-ZY55"><circle class="ZH" cx="743" cy="725" r="7.3"/><text class="t3" x="756.3" y="724.5">ZY55</text><text class="t3" x="756.3" y="732.5">L131025</text></g>
<g id="p6-57F"><circle class="YY" cx="725" cy="792.7" r="4.7"/><text class="t3" x="732.5" y="795">57F</text></g>
<g id="p6-A"><circle class="JN" cx="552.3" cy="710.7" r="14.3" style="stroke:none"/>
<path class="HD2" d="M552.3,710.7 L540.59,702.5 A14.3,14.3 0 0 1 566.6,710.7 Z"/>
<path class="PD" d="M552.3,710.7 L566.6,710.7 A14.3,14.3 0 0 1 564.01,718.9 Z"/>
<path class="LX" d="M552.3,710.7 L564.01,718.9 A14.3,14.3 0 0 1 549.82,724.78 Z"/>
<circle class="o" cx="552.3" cy="710.7" r="14.3" style="stroke-width:1.5"/>
<text class="w" x="551.5" y="716" font-size="17">A</text><text class="w" x="554" y="724" font-size="4.5">8</text></g>
</g>
</svg>
